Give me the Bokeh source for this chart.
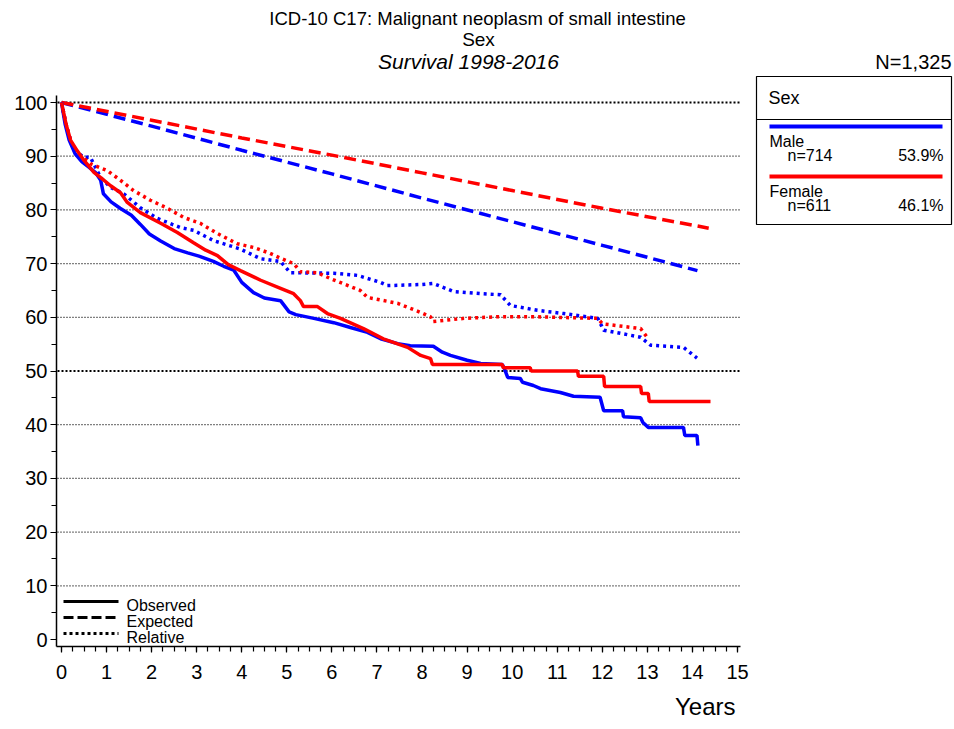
from bokeh.plotting import figure
from bokeh.models import Range1d, FixedTicker, Title
from bokeh.core.properties import value
from bokeh.embed import file_html
from bokeh.resources import INLINE

# ---------------- data ----------------
male_obs_t = [0, 0.08, 0.17, 0.3, 0.45, 0.6, 0.75, 0.87, 0.93, 1.1, 1.3, 1.55, 1.75, 1.95, 2.2, 2.5, 2.8,
              3.05, 3.37, 3.6, 3.82, 4.0, 4.26, 4.5, 4.86, 5.05, 5.2, 5.6, 6.04, 6.41, 6.79, 7.08, 7.46,
              7.74, 8.25, 8.45, 8.63, 9.0, 9.3, 9.78, 9.82, 9.9, 10.18, 10.23, 10.47, 10.63, 11.07, 11.36,
              11.95, 12.03, 12.45, 12.47, 12.85, 12.9, 13.02, 13.8, 13.83, 14.1, 14.12]
male_obs_v = [100, 96, 93, 90.5, 89, 88, 87, 85.5, 83, 81.5, 80.3, 79, 77.3, 75.5, 74.2, 72.8, 72,
              71.4, 70.4, 69.5, 68.8, 66.5, 64.6, 63.6, 63.1, 61, 60.5, 59.8, 59.0, 58.1, 57.2, 56, 55.1,
              54.7, 54.6, 53.5, 52.9, 52.0, 51.4, 51.2, 50.6, 48.8, 48.6, 47.9, 47.3, 46.7, 46.0, 45.3,
              45.1, 42.6, 42.6, 41.5, 41.3, 40.4, 39.5, 39.5, 38.0, 38.0, 36.1]

female_obs_t = [0, 0.1, 0.2, 0.35, 0.5, 0.72, 0.87, 1.09, 1.31, 1.46, 1.75, 2.2, 2.57, 2.93, 3.2, 3.46,
                3.7, 3.97, 4.42, 4.86, 5.15, 5.3, 5.37, 5.68, 5.9, 6.19, 6.7, 7.14, 7.68, 7.97, 8.19, 8.23,
                9.78, 9.8, 10.4, 10.42, 11.45, 11.47, 12.03, 12.05, 12.85, 12.87, 13.02, 13.04, 14.4]
female_obs_v = [100, 96, 93, 91, 89.2, 87, 86, 84.5, 83.2, 81.4, 79.5, 77.5, 75.8, 73.9, 72.5, 71.5,
                69.8, 68.7, 66.9, 65.4, 64.4, 63.1, 62, 62, 60.7, 59.8, 57.9, 56, 54.4, 52.9, 52.3, 51.2,
                51.2, 50.6, 50.6, 50.0, 50.0, 49.0, 49.0, 47.1, 47.1, 45.8, 45.8, 44.3, 44.3]

male_exp_t = [0, 2, 4, 6, 8, 10, 12, 14.11]
male_exp_v = [100, 95.6, 91.1, 86.7, 82.2, 77.8, 73.4, 68.7]
female_exp_t = [0, 2, 4, 6, 8, 10, 12, 14.36]
female_exp_v = [100, 96.7, 93.4, 90.2, 86.9, 83.6, 80.3, 76.6]

male_rel_t = [0, 0.1, 0.2, 0.3, 0.5, 0.64, 0.75, 0.87, 1.09, 1.38, 1.75, 2.13, 2.64, 2.93, 3.37, 3.97,
              4.42, 4.86, 5.08, 6.04, 6.57, 7.08, 7.23, 7.97, 8.25, 8.7, 9.3, 9.74, 9.96, 10.56, 11.14,
              11.9, 12.03, 12.85, 13.07, 13.8, 14.1]
male_rel_v = [100, 96, 93, 91, 89.8, 89.8, 88, 86, 84.2, 83, 80.4, 78.4, 76.7, 76.2, 74.3, 72.7,
              70.9, 70.4, 68.3, 68.2, 67.8, 66.5, 65.9, 66.1, 66.3, 64.8, 64.4, 64.2, 62.2, 61.3, 60.7,
              59.8, 57.6, 56.3, 54.8, 54.4, 52.4]

female_rel_t = [0, 0.1, 0.2, 0.27, 0.64, 1.02, 1.31, 1.6, 1.97, 2.35, 2.71, 3.08, 3.46, 3.9, 4.26, 4.6,
                4.86, 5.15, 5.3, 5.68, 5.97, 6.63, 6.79, 7.46, 7.97, 8.19, 8.23, 8.93, 9.67, 10.5, 11.9,
                12.0, 12.85, 13.0]
female_rel_v = [100, 96, 93, 91.2, 88.6, 87.3, 85.5, 83.6, 81.8, 80.3, 78.6, 77.5, 75.6, 73.7, 73, 72,
                71.0, 70, 68.5, 68.3, 67.2, 65.0, 63.7, 62.6, 60.9, 60.1, 59.2, 59.8, 60.1, 60.1, 59.8,
                58.8, 57.9, 56.2]

x_ticks = list(range(0, 16))
x_minor = [i * 0.25 for i in range(0, 61)]
y_ticks = list(range(0, 101, 10))
y_minor = list(range(5, 100, 10))
grid_vals = list(range(10, 101, 10))

groups = ["Male", "Female"]
group_n = ["n=714", "n=611"]
group_pct = ["53.9%", "46.1%"]
BLUE = "#0000FF"
RED = "#FF0000"
FONT = "Liberation Sans"

# ---------------- geometry (screen px -> data) ----------------
SX = 45.07   # px per year
SY = 5.37    # px per percent
X0 = 61      # screen x of year 0
Y0 = 639     # screen y of 0 %


def dx(px):
    return (px - X0) / SX


def dy(py):
    return (Y0 - py) / SY


W, H = 954, 729
p = figure(width=W, height=H, output_backend="svg", toolbar_location=None,
           title_location=None,
           x_range=Range1d(dx(56), dx(954)), y_range=Range1d(dy(646), dy(0)),
           min_border_left=56, min_border_right=0, min_border_top=0, min_border_bottom=83)
p.outline_line_color = None
p.xgrid.visible = False
p.ygrid.visible = False
p.background_fill_color = "white"
p.border_fill_color = "white"

# axes
xa = p.xaxis[0]
xa.ticker = FixedTicker(ticks=x_ticks, minor_ticks=x_minor)
xa.bounds = (dx(56), 15.07)
ya = p.yaxis[0]
ya.ticker = FixedTicker(ticks=y_ticks, minor_ticks=y_minor)
ya.bounds = (dy(646), 101.3)
for ax in (xa, ya):
    ax.axis_line_color = "black"
    ax.axis_line_width = 1.5
    ax.major_tick_line_color = "black"
    ax.minor_tick_line_color = "black"
    ax.major_tick_line_width = 1.2
    ax.minor_tick_line_width = 1.2
    ax.major_tick_in = 0
    ax.minor_tick_in = 0
    ax.major_tick_out = 6
    ax.minor_tick_out = 5
    ax.major_label_text_font = FONT
    ax.major_label_text_font_size = "20px"
    ax.major_label_text_color = "black"
xa.major_label_standoff = 12
ya.major_label_standoff = 3

years = Title(text="Years", align="right", offset=219, text_font=FONT, text_font_size="24px",
              text_font_style="normal", text_color="black", standoff=19)
p.add_layout(years, "below")

# gridlines
thin = [g for g in grid_vals if g not in (50, 100)]
thick = [g for g in grid_vals if g in (50, 100)]
p.segment(x0=[dx(57)] * len(thin), x1=[dx(740)] * len(thin), y0=thin, y1=thin,
          line_color="black", line_width=1.2, line_dash="1 2")
p.segment(x0=[dx(57)] * len(thick), x1=[dx(740)] * len(thick), y0=thick, y1=thick,
          line_color="black", line_width=2, line_dash="2 2")

# curves
LW = 3.5
p.line(male_exp_t, male_exp_v, line_color=BLUE, line_width=LW, line_dash="12 6")
p.line(female_exp_t, female_exp_v, line_color=RED, line_width=LW, line_dash="12 6")
p.line(male_rel_t, male_rel_v, line_color=BLUE, line_width=LW, line_dash="3 4")
p.line(female_rel_t, female_rel_v, line_color=RED, line_width=LW, line_dash="3 4")
p.line(male_obs_t, male_obs_v, line_color=BLUE, line_width=LW)
p.line(female_obs_t, female_obs_v, line_color=RED, line_width=LW)


def txt(px, py, s, size, align="left", style="normal"):
    p.text(x=[dx(px)], y=[dy(py)], text=[s], text_font=value(FONT),
           text_font_size=value(size), text_align=align, text_baseline="middle",
           text_color="black", text_font_style=style)


# titles
txt(477, 18, "ICD-10 C17: Malignant neoplasm of small intestine", "18.5px", "center")
txt(478, 39, "Sex", "19px", "center")
txt(468, 61, "Survival 1998-2016", "21px", "center", "italic")
txt(43, 63, "%", "22px", "center")
txt(951, 61, "N=1,325", "20px", "right")

# group legend box
p.quad(left=[dx(756)], right=[dx(951)], top=[dy(76)], bottom=[dy(224)],
       fill_color="white", line_color="black", line_width=1.2)
p.segment(x0=[dx(756)], x1=[dx(951)], y0=[dy(119)], y1=[dy(119)], line_color="black", line_width=1.2)
txt(768, 97, "Sex", "18px")
for i, (g, n, pc, col) in enumerate(zip(groups, group_n, group_pct, [BLUE, RED])):
    base = 126 + 50 * i
    p.segment(x0=[dx(769)], x1=[dx(942)], y0=[dy(base)], y1=[dy(base)], line_color=col, line_width=4)
    txt(769, base + 15, g, "16px")
    txt(787, base + 29, n, "16px")
    txt(943, base + 29, pc, "16px", "right")

# line style legend
styles = [("Observed", None), ("Expected", "10 4"), ("Relative", "3 3")]
for i, (lab, dash) in enumerate(styles):
    yy = 601 + 16 * i
    kw = {} if dash is None else {"line_dash": dash}
    p.segment(x0=[dx(63)], x1=[dx(118)], y0=[dy(yy)], y1=[dy(yy)], line_color="black",
              line_width=3, **kw)
    txt(126, yy + 4, lab, "16px")

open("out.html", "w").write(file_html(p, INLINE))
